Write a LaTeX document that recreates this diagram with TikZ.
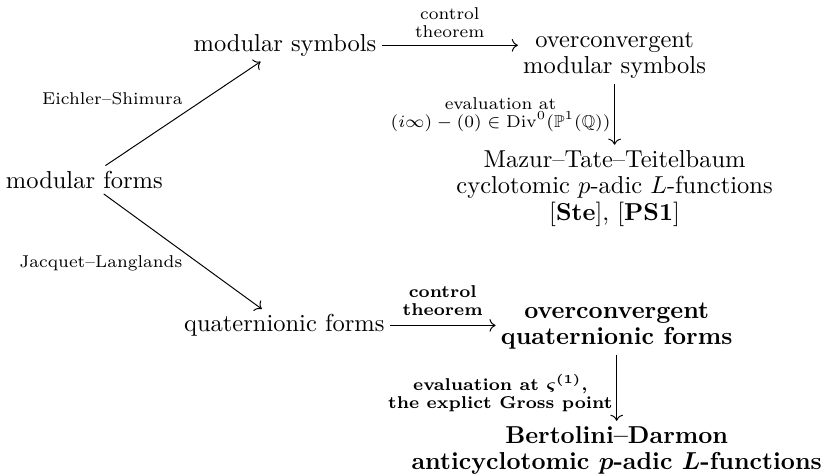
\documentclass[tikz,border=0pt]{standalone}
\usepackage{amssymb}
\usetikzlibrary{positioning, arrows.meta}

\begin{document}
\begin{tikzpicture}[every node/.style={inner sep=2pt},
		cd/.style={-{Computer Modern Rightarrow}},
		lbl/.style={font=\fontsize{7}{7.2}\selectfont, align=center, inner sep=1.5pt},
		blbl/.style={font=\fontsize{7}{7.2}\selectfont\bfseries\boldmath, align=center, inner sep=1.5pt},
		obj/.style={align=center, font=\fontsize{10}{10.8}\selectfont},
		bobj/.style={align=center, font=\fontsize{10}{10.6}\selectfont\bfseries\boldmath}]
		\useasboundingbox (0,0) rectangle (11.84,-6.815);

		% objects of the diagram
		\node (mf) at (1.21,-2.58) {modular forms};
		\node (ms) at (4.09,-0.65) {modular symbols};
		\node[obj] (oms) at (8.82,-0.80) {overconvergent\\modular symbols};
		\node[obj] (mtt) at (8.82,-2.70) {Mazur--Tate--Teitelbaum\\cyclotomic $p$-adic $L$-functions\\{}[\textbf{Ste}], [\textbf{PS1}]};
		\node (qf) at (4.08,-4.67) {quaternionic forms};
		\node[bobj] (oqf) at (8.85,-4.68) {overconvergent\\quaternionic forms};
		\node[bobj] (bd) at (8.85,-6.46) {Bertolini--Darmon\\anticyclotomic $p$-adic $L$-functions};

		% maps
		\draw[cd] (mf) -- node[lbl, above left, xshift=1.5pt, yshift=2pt] {Eichler--Shimura} (ms);
		\draw[cd] (mf) -- node[lbl, below left, xshift=1.5pt] {Jacquet--Langlands} (qf);
		\draw[cd] (ms) -- node[lbl, above, yshift=1.5pt] {control\\theorem} (ms -| oms.west);
		\draw[cd] (oms) -- node[lbl, left] {evaluation at\\$(i\infty)-(0)\in\mathrm{Div}^0(\mathbb{P}^1(\mathbb{Q}))$} (mtt);
		\draw[cd] (qf) -- node[blbl, above, yshift=2.5pt] {control\\theorem} (qf -| oqf.west);
		\draw[cd] (oqf) -- node[blbl, left, yshift=-2pt] {evaluation at $\varsigma^{(1)}$,\\the explict Gross point} (bd);
	\end{tikzpicture}
\end{document}
